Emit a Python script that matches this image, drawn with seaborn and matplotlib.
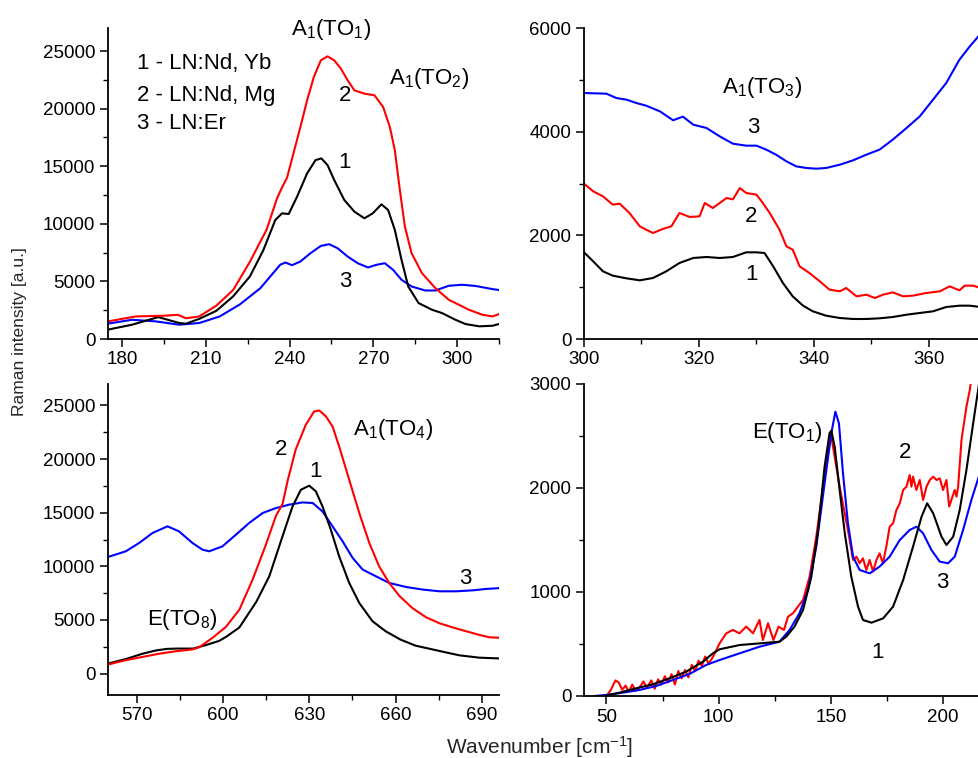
import matplotlib
matplotlib.use("Agg")
import matplotlib.pyplot as plt
from matplotlib.ticker import MultipleLocator
import seaborn as sns
import pandas as pd

# ---------------- spectra: A1(TO1), A1(TO2) region ----------------
tl_red_x = [175, 185, 195, 200, 203, 207.7, 213.8, 219.8, 225.8, 231.8, 235.5, 237.3, 239.1, 241.5,
            243.9, 246.3, 248.7, 251.2, 253.6, 256.0, 258.4, 260.8, 263.2, 266.8, 270.4, 273.5,
            275.9, 277.7, 279.5, 281.3, 283.7, 287.4, 292.2, 297.0, 301.8, 304.2, 309.1, 312.7, 316]
tl_red_y = [1530, 1960, 2020, 2100, 1800, 1960, 2900, 4250, 6700, 9500, 12200, 13150, 14000, 16200,
            18420, 20730, 22750, 24190, 24540, 24190, 23470, 22460, 21590, 21300, 21160, 20150,
            18420, 16400, 12930, 9760, 7450, 5720, 4420, 3410, 2830, 2540, 2100, 1960, 2250]
tl_black_x = [174.9, 183.6, 193.0, 200.5, 202.9, 207.7, 213.8, 219.8, 225.8, 230.6, 234.9, 237.3, 239.7,
              242.7, 246.3, 249.3, 251.4, 253.6, 256.0, 259.6, 263.2, 266.8, 269.8, 272.9, 275.3,
              277.7, 280.1, 282.5, 286.2, 291.0, 294.6, 299.4, 303.0, 307.9, 312.7, 316.3]
tl_black_y = [810, 1240, 1900, 1390, 1330, 1750, 2450, 3700, 5430, 7700, 10330, 10910, 10850,
              12360, 14380, 15530, 15680, 15100, 13800, 12070, 11060, 10480, 10910, 11690, 11200,
              9470, 6870, 4560, 3120, 2540, 2250, 1670, 1300, 1100, 1150, 1390]
tl_blue_x = [174.9, 183.6, 192.1, 200.5, 207.7, 215.0, 222.2, 229.5, 233.7, 236.7, 238.5, 240.9, 243.9,
             247.5, 251.2, 254.2, 257.2, 260.8, 264.4, 268.1, 271.1, 274.1, 277.1, 280.1, 283.7,
             288.6, 292.2, 297.0, 301.8, 306.7, 312.7, 316.3]
tl_blue_y = [1330, 1670, 1530, 1240, 1390, 1960, 3000, 4400, 5600, 6450, 6640, 6410, 6730,
             7450, 8080, 8230, 7880, 7160, 6580, 6210, 6440, 6580, 6000, 5140, 4560,
             4210, 4210, 4620, 4710, 4600, 4330, 4210]

# ---------------- spectra: A1(TO3) region ----------------
tr_red_x = [300, 301.6, 303.3, 305.0, 306.2, 307.9, 309.7, 310.8, 312.0, 313.7, 315.2, 316.6, 318.4,
            320.1, 321.0, 322.4, 323.6, 324.8, 325.9, 327.1, 328.2, 330.0, 331.1, 332.3, 334.0, 335.2,
            336.3, 337.5, 339.2, 341.0, 342.7, 344.5, 345.6, 347.4, 349.1, 350.6, 352.0, 353.7, 355.5,
            357.2, 359.5, 361.9, 363.6, 365.3, 366.2, 367.7, 369]
tr_red_y = [2997, 2849, 2752, 2592, 2611, 2431, 2174, 2109, 2045, 2122, 2174, 2431, 2354,
            2367, 2624, 2527, 2624, 2720, 2694, 2913, 2817, 2785, 2624, 2431, 2109, 1788,
            1723, 1402, 1273, 1113, 952, 920, 984, 823, 855, 791, 855, 900, 823,
            836, 887, 920, 1016, 939, 1029, 1029, 984]
tr_black_x = [300, 301.6, 303.3, 305.0, 307.4, 309.7, 312.0, 314.3, 316.6, 319.0, 321.3, 323.6, 325.9,
              328.2, 330.0, 331.4, 332.9, 334.6, 336.3, 338.1, 339.8, 342.1, 344.5, 346.8, 349.1, 351.4,
              353.7, 356.1, 358.4, 360.7, 363.0, 365.3, 367.1, 369]
tr_black_y = [1672, 1498, 1305, 1222, 1170, 1132, 1177, 1305, 1466, 1563, 1582, 1563, 1582,
              1672, 1672, 1659, 1402, 1080, 823, 643, 534, 450, 405, 386, 386, 399,
              424, 469, 502, 534, 617, 643, 643, 617]
tr_blue_x = [300, 303.9, 305.6, 307.4, 309.1, 310.8, 313.2, 315.5, 317.2, 319.0, 321.3, 323.6, 325.9,
             328.2, 330.0, 331.7, 333.4, 335.2, 336.9, 338.7, 340.4, 342.1, 344.5, 346.8, 349.1, 351.4,
             353.7, 356.1, 358.4, 360.7, 363.0, 365.3, 367.1, 369]
tr_blue_y = [4746, 4733, 4650, 4617, 4553, 4502, 4392, 4220, 4290, 4135, 4071, 3910, 3768,
             3730, 3730, 3653, 3556, 3428, 3331, 3299, 3286, 3299, 3363, 3447, 3556, 3653,
             3846, 4071, 4296, 4617, 4939, 5389, 5646, 5890]

# ---------------- spectra: A1(TO4), E(TO8) region ----------------
bl_red_x = [560, 566.2, 572.0, 577.8, 583.6, 589.4, 591.7, 596.3, 601.0, 605.7, 610.3, 614.9, 618.4,
            620.7, 622.5, 625.3, 628.8, 631.7, 633.5, 635.8, 638.1, 640.4, 643.9, 647.4, 650.9, 654.3,
            657.8, 661.3, 665.9, 670.6, 675.2, 679.9, 684.5, 689.2, 692.7, 697]
bl_red_y = [840, 1250, 1550, 1850, 2080, 2250, 2450, 3320, 4350, 5960, 8760, 12000, 14700,
            15800, 18000, 20900, 23200, 24440, 24530, 23980, 23040, 21180, 18070, 14970, 12170, 10000,
            8450, 7250, 6100, 5250, 4700, 4300, 3950, 3600, 3380, 3330]
bl_black_x = [560, 566.2, 572.0, 576.6, 580.5, 584.0, 589.6, 594.0, 598.7, 601.4, 605.7, 611.6, 616.1,
              620.7, 624.2, 627.1, 630.0, 632.3, 634.6, 637.5, 640.4, 643.9, 647.4, 652.0, 656.6,
              661.7, 667.0, 675.7, 682.2, 689.2, 697]
bl_black_y = [930, 1350, 1850, 2150, 2300, 2330, 2330, 2650, 3050, 3480, 4300, 6700, 9070,
              12800, 15590, 17140, 17520, 16990, 15590, 13420, 10930, 8450, 6580, 4880, 3940,
              3170, 2600, 2080, 1700, 1480, 1400]
bl_blue_x = [560, 566.2, 570.8, 575.5, 580.7, 584.7, 589.4, 592.9, 595.2, 599.8, 604.5, 609.1, 613.8,
             618.4, 623.0, 627.7, 631.2, 634.6, 638.1, 641.6, 645.1, 648.6, 653.2, 657.8, 663.7, 669.5,
             675.3, 681.1, 686.9, 691.5, 697]
bl_blue_y = [10870, 11400, 12170, 13110, 13730, 13260, 12170, 11550, 11400, 11860, 12950, 14040, 14970,
             15430, 15750, 15960, 15900, 15120, 13730, 12330, 10780, 9690, 9070, 8450, 8070, 7830,
             7670, 7670, 7760, 7890, 7980]

# ---------------- spectra: E(TO1) region ----------------
br_red_x = [50, 52, 54, 55.5, 57, 58.5, 60, 61.5, 63, 65, 66.5, 68, 70, 71.5, 73, 74.5, 76, 77.5, 79,
            80.5, 82, 83.5, 85, 86.5, 88, 89.5, 91, 92.5, 94, 95.5, 97, 98.5,
            100.4, 103.4, 106.3, 109.3, 112.3, 115.3, 118.2, 119.7, 122.0, 124.4, 126.7, 129.1, 130.9,
            133.1, 135.3, 137.6, 140.5, 143.5, 146.5, 148.7, 150.2,
            153.9, 157.6, 159.9, 161.4, 162.8, 164.3, 165.8, 167.3, 168.8, 170.3, 171.7, 173.2, 174.7,
            176.2, 177.7, 179.2, 180.7, 182.2, 183.7, 185.1, 185.9, 186.6, 188.1, 189.6, 191.1, 192.6,
            194.1, 195.6, 197.1, 198.5, 200.0, 201.5, 202.7, 203.7, 205.2, 206.0, 206.7, 208.2, 210.4,
            211.9, 213.5]
br_red_y = [0, 60, 150, 130, 60, 100, 40, 110, 50, 90, 140, 80, 150, 70, 160, 110, 190, 130, 210,
            110, 240, 170, 250, 180, 300, 240, 340, 290, 380, 310, 360, 420,
            506, 603, 635, 603, 667, 603, 731, 538, 699, 538, 667, 635, 763,
            795, 859, 923, 1147, 1532, 2013, 2365, 2494,
            2013, 1596, 1308, 1340, 1276, 1324, 1212, 1308, 1196, 1308, 1372, 1276, 1436,
            1628, 1660, 1788, 1853, 1981, 2013, 2125, 2013, 2109, 1981, 2077, 1885, 2013,
            2077, 2109, 2077, 2093, 1981, 2077, 1821, 1885, 1981, 1917, 2013, 2462, 2782,
            2942, 3200]
br_black_x = [49.1, 55.8, 63.2, 70.7, 78.1, 85.5, 93.0, 97.4, 100.4, 109.3, 118.2, 127.1, 130.1, 133.8,
              137.6, 141.3, 144.3, 147.2, 149.4, 150.2, 151.7, 153.9, 156.2, 159.1, 162.1, 164.3, 168.1,
              173.3, 177.7, 182.2, 186.6, 190.4, 192.9, 195.6, 199.3, 201.5, 204.5, 207.4, 210.4, 213.4,
              215.6, 217]
br_black_y = [0, 32, 74, 112, 170, 234, 330, 410, 449, 490, 506, 522, 570, 667,
              827, 1147, 1596, 2205, 2526, 2551, 2397, 1981, 1564, 1147, 859, 731, 705,
              747, 859, 1115, 1436, 1724, 1853, 1756, 1532, 1452, 1532, 1788, 2173, 2622,
              2942, 3150]
br_blue_x = [44.6, 49.9, 57.3, 64.7, 72.1, 79.6, 87.0, 94.4, 100.4, 109.3, 118.2, 127.1, 131.6, 136.0,
             139.8, 143.5, 147.2, 150.2, 152.0, 153.6, 155.4, 157.6, 159.9, 162.8, 167.3, 171.7, 176.2,
             180.7, 185.1, 188.1, 191.1, 194.8, 198.5, 202.2, 205.2, 208.9, 212.6, 215.9, 217]
br_blue_y = [0, 10, 32, 58, 96, 154, 212, 298, 346, 410, 474, 522, 635, 795,
             1019, 1436, 2045, 2526, 2734, 2622, 2141, 1660, 1340, 1212, 1179, 1244, 1340,
             1500, 1596, 1628, 1564, 1404, 1292, 1276, 1340, 1596, 1885, 2109, 2180]

legend_lines = ["1 - LN:Nd, Yb", "2 - LN:Nd, Mg", "3 - LN:Er"]

sns.set_style("ticks")
plt.rcParams["font.family"] = ["Liberation Sans", "DejaVu Sans"]
plt.rcParams["mathtext.fontset"] = "custom"
plt.rcParams["mathtext.rm"] = "Liberation Sans"
plt.rcParams["mathtext.it"] = "Liberation Sans:italic"
plt.rcParams["mathtext.default"] = "regular"

W, H = 979, 758
fig = plt.figure(figsize=(W / 100, H / 100), dpi=100)


def make_axes(left, right, top, bottom):
    return fig.add_axes([left / W, (H - bottom) / H, (right - left) / W, (bottom - top) / H])


ax_tl = make_axes(108, 499, 28, 339)
ax_tr = make_axes(584, 979, 28, 339)
ax_bl = make_axes(108, 499, 384, 695)
ax_br = make_axes(584, 979, 384, 696)

RED, BLACK, BLUE = "#ff0000", "#000000", "#0000ff"


def draw(ax, xs, ys, color):
    df = pd.DataFrame({"x": xs, "y": ys})
    sns.lineplot(data=df, x="x", y="y", ax=ax, color=color, lw=1.5,
                 sort=False, estimator=None)


for ax, series in [
    (ax_tl, [(tl_blue_x, tl_blue_y, BLUE), (tl_black_x, tl_black_y, BLACK), (tl_red_x, tl_red_y, RED)]),
    (ax_tr, [(tr_blue_x, tr_blue_y, BLUE), (tr_black_x, tr_black_y, BLACK), (tr_red_x, tr_red_y, RED)]),
    (ax_bl, [(bl_blue_x, bl_blue_y, BLUE), (bl_black_x, bl_black_y, BLACK), (bl_red_x, bl_red_y, RED)]),
    (ax_br, [(br_red_x, br_red_y, RED), (br_blue_x, br_blue_y, BLUE), (br_black_x, br_black_y, BLACK)]),
]:
    for xs, ys, c in series:
        draw(ax, xs, ys, c)

limits = {
    ax_tl: ((175, 315), (0, 27000), 30, 15, 5000, 2500),
    ax_tr: ((300, 368.7), (0, 6000), 20, 10, 2000, 1000),
    ax_bl: ((560, 696), (-2000, 27000), 30, 15, 5000, 2500),
    ax_br: ((40, 216), (0, 3000), 50, 25, 1000, 500),
}
for ax, (xl, yl, xmaj, xmin, ymaj, ymin) in limits.items():
    ax.set_xlim(*xl)
    ax.set_ylim(*yl)
    ax.xaxis.set_major_locator(MultipleLocator(xmaj))
    ax.xaxis.set_minor_locator(MultipleLocator(xmin))
    ax.yaxis.set_major_locator(MultipleLocator(ymaj))
    ax.yaxis.set_minor_locator(MultipleLocator(ymin))
    ax.set_xlabel("")
    ax.set_ylabel("")
    sns.despine(ax=ax)
    for s in ("left", "bottom"):
        ax.spines[s].set_linewidth(1.3)
        ax.spines[s].set_color("black")
    ax.tick_params(which="major", direction="out", length=6, width=1.1, labelsize=13.5,
                   colors="black", pad=3)
    ax.tick_params(which="minor", direction="out", length=3.5, width=1.0, colors="black")
    ax.patch.set_alpha(0)

ax_tr.set_yticks([0, 2000, 4000, 6000])
ax_tr.set_yticklabels(["0", "2000", "4000", "6000"])

TXT = dict(fontsize=16, ha="center", va="center", color="black", clip_on=False)

# top-left: mode names, sample key and curve numbers
ax_tl.text(255, 26900, "A$_1$(TO$_1$)", **TXT)
ax_tl.text(290, 22650, "A$_1$(TO$_2$)", **TXT)
for line, yy in zip(legend_lines, [23960, 21180, 18750]):
    ax_tl.text(185.3, yy, line, fontsize=16, ha="left", va="center", color="black")
ax_tl.text(259.8, 21180, "2", **TXT)
ax_tl.text(259.8, 15280, "1", **TXT)
ax_tl.text(259.8, 4950, "3", **TXT)

# top-right
ax_tr.text(331, 4843, "A$_1$(TO$_3$)", **TXT)
ax_tr.text(329.4, 4071, "3", **TXT)
ax_tr.text(329.0, 2354, "2", **TXT)
ax_tr.text(329.2, 1235, "1", **TXT)

# bottom-left
ax_bl.text(659, 22740, "A$_1$(TO$_4$)", **TXT)
ax_bl.text(620.3, 20876, "2", **TXT)
ax_bl.text(632, 18830, "1", **TXT)
ax_bl.text(684.4, 8850, "3", **TXT)
ax_bl.text(585.8, 5030, "E(TO$_8$)", **TXT)

# bottom-right
ax_br.text(130.6, 2538, "E(TO$_1$)", **TXT)
ax_br.text(183.2, 2337, "2", **TXT)
ax_br.text(199.8, 1087, "3", **TXT)
ax_br.text(170.8, 423, "1", **TXT)

fig.text(20 / W, 1 - 332 / H, "Raman intensity [a.u.]", rotation=90, ha="center", va="center",
         fontsize=12.5)
fig.text(540 / W, 1 - 747 / H, "Wavenumber [cm$^{-1}$]", ha="center", va="center", fontsize=15)

fig.savefig("out.png", dpi=100, facecolor="white")
